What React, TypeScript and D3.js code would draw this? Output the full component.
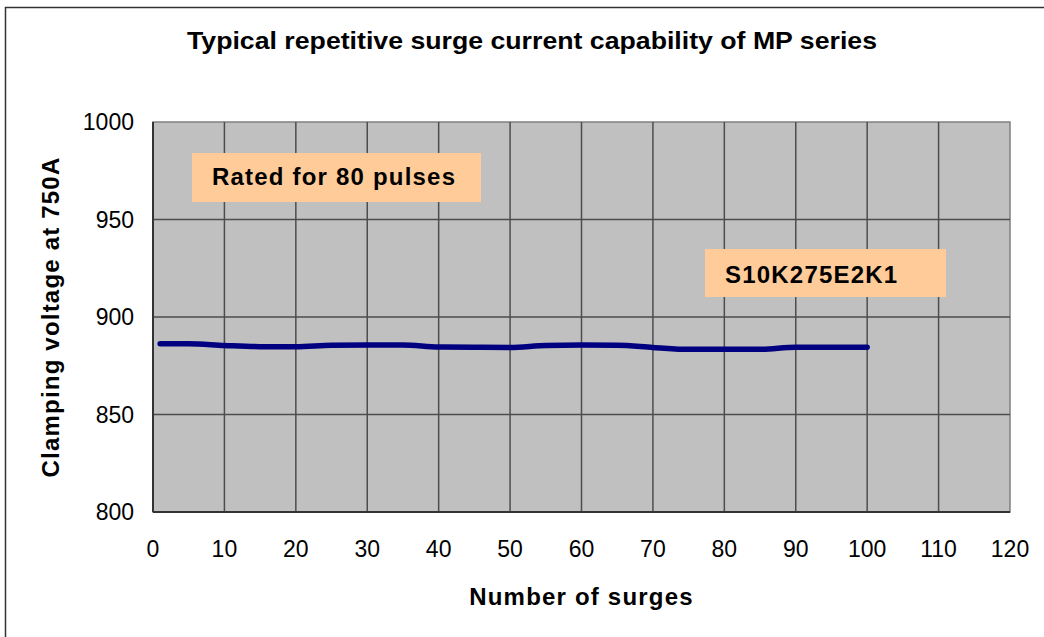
import React from "react";
import * as d3 from "d3";

// number of surges and measured clamping voltage (V @ 750A)
const surges = [1, 5, 10, 15, 20, 25, 30, 35, 40, 45, 50, 55, 60, 65, 70, 75, 80, 85, 90, 95, 100];
const clampVoltage = [
  886.3, 886.3, 885.4, 884.8, 884.8, 885.5, 885.6, 885.6, 884.6, 884.5, 884.4,
  885.4, 885.6, 885.5, 884.4, 883.4, 883.4, 883.4, 884.5, 884.5, 884.5,
];
const xTicks = [0, 10, 20, 30, 40, 50, 60, 70, 80, 90, 100, 110, 120];
const yTicks = [800, 850, 900, 950, 1000];

const W = 1044;
const H = 637;
const plot = { left: 153, top: 122, right: 1010, bottom: 512 };

const App: React.FC = () => {
  const x = d3.scaleLinear().domain([0, 120]).range([plot.left, plot.right]);
  const y = d3.scaleLinear().domain([800, 1000]).range([plot.bottom, plot.top]);

  const points = surges.map((s, i) => [s, clampVoltage[i]] as [number, number]);
  const line = d3
    .line<[number, number]>()
    .x((d) => x(d[0]))
    .y((d) => y(d[1]))
    .curve(d3.curveMonotoneX);

  const bold = { fontFamily: "Arial, 'Liberation Sans', sans-serif", fontWeight: 700, fontSize: 24 };
  const plain = { fontFamily: "Arial, 'Liberation Sans', sans-serif", fontSize: 23 };

  return (
    <svg
      width={W}
      height={H}
      style={{ position: "absolute", left: 0, top: 0, display: "block", background: "#fff" }}
    >
      {/* chart frame */}
      <rect x={5.5} y={7.5} width={W} height={H} fill="none" stroke="#333" strokeWidth={1.5} />

      <text x={532} y={49} textAnchor="middle" style={bold} textLength={690} lengthAdjust="spacingAndGlyphs">
        Typical repetitive surge current capability of MP series
      </text>

      {/* plot area */}
      <rect
        x={plot.left}
        y={plot.top}
        width={plot.right - plot.left}
        height={plot.bottom - plot.top}
        fill="#C0C0C0"
        stroke="#808080"
        strokeWidth={1.5}
      />

      {xTicks.slice(1, -1).map((t) => (
        <line key={"gx" + t} x1={x(t)} x2={x(t)} y1={plot.top} y2={plot.bottom} stroke="#4d4d4d" strokeWidth={1.5} />
      ))}
      {yTicks.slice(1, -1).map((t) => (
        <line key={"gy" + t} x1={plot.left} x2={plot.right} y1={y(t)} y2={y(t)} stroke="#4d4d4d" strokeWidth={1.5} />
      ))}

      {/* axes */}
      <line x1={plot.left} x2={plot.left} y1={plot.top} y2={plot.bottom} stroke="#333" strokeWidth={2} />
      <line x1={plot.left} x2={plot.right} y1={plot.bottom} y2={plot.bottom} stroke="#333" strokeWidth={2} />

      {xTicks.map((t) => (
        <text key={"xt" + t} x={x(t)} y={557} textAnchor="middle" style={plain}>
          {t}
        </text>
      ))}
      {yTicks.map((t) => (
        <text key={"yt" + t} x={134} y={y(t) + 8} textAnchor="end" style={plain}>
          {t}
        </text>
      ))}

      <text x={(plot.left + plot.right) / 2} y={605} textAnchor="middle" style={bold} letterSpacing={1.2}>
        Number of surges
      </text>
      <text
        transform={`translate(59, ${(plot.top + plot.bottom) / 2}) rotate(-90)`}
        textAnchor="middle"
        style={bold}
        letterSpacing={1.2}
      >
        Clamping voltage at 750A
      </text>

      {/* annotations */}
      <rect x={192} y={153} width={289} height={49} fill="#FFCC99" />
      <text x={212} y={185} style={bold} letterSpacing={1.2}>
        Rated for 80 pulses
      </text>
      <rect x={705} y={249} width={241} height={48} fill="#FFCC99" />
      <text x={725} y={283} style={bold} letterSpacing={1.2}>
        S10K275E2K1
      </text>

      <path d={line(points) ?? ""} fill="none" stroke="#000080" strokeWidth={5.5} strokeLinecap="round" strokeLinejoin="round" />
    </svg>
  );
};

export default App;
